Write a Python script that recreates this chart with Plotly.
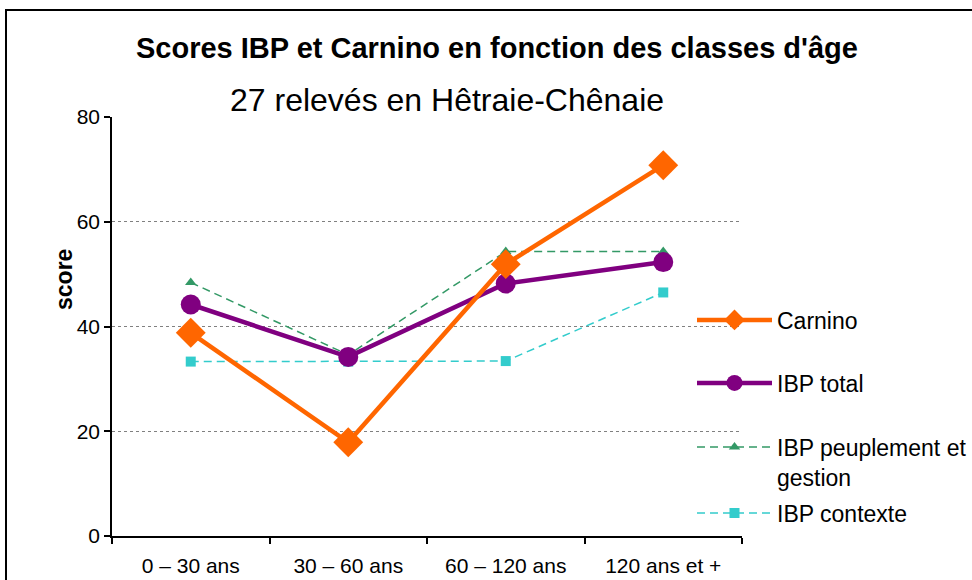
import plotly.graph_objects as go

categories = ["0 – 30 ans", "30 – 60 ans", "60 – 120 ans", "120 ans et +"]
carnino = [38.8, 17.9, 51.9, 70.8]
ibp_total = [44.2, 34.2, 48.2, 52.3]
ibp_peuplement = [48.4, 34.6, 54.3, 54.3]
ibp_contexte = [33.3, 33.3, 33.4, 46.5]
y_ticks = [0, 20, 40, 60, 80]

W, H = 972, 580
L, R, T, B = 112, 742, 117, 536
pw, ph = R - L, B - T

def px(x):
    return (x - L) / pw

def py(y):
    return (B - y) / ph

FONT = "Liberation Sans, Arial, sans-serif"

fig = go.Figure()
fig.add_trace(go.Scatter(x=categories, y=ibp_contexte, name="IBP contexte", mode="lines+markers",
                         line=dict(color="#33CCCC", width=1.5, dash="8px,5px"),
                         marker=dict(symbol="square", size=10, color="#33CCCC"), legend="legend4"))
fig.add_trace(go.Scatter(x=categories, y=ibp_peuplement, name="IBP peuplement et<br>gestion", mode="lines+markers",
                         line=dict(color="#339966", width=1.5, dash="8px,5px"),
                         marker=dict(symbol="triangle-up", size=10, color="#339966"), legend="legend3"))
fig.add_trace(go.Scatter(x=categories, y=ibp_total, name="IBP total", mode="lines+markers",
                         line=dict(color="#800080", width=4.5),
                         marker=dict(symbol="circle", size=20, color="#800080"), legend="legend2"))
fig.add_trace(go.Scatter(x=categories, y=carnino, name="Carnino", mode="lines+markers",
                         line=dict(color="#FF6600", width=4.5),
                         marker=dict(symbol="diamond", size=23, color="#FF6600"), legend="legend"))

def leg(y):
    return dict(x=px(692), xanchor="left", y=py(y), yanchor="middle", bgcolor="rgba(0,0,0,0)",
                font=dict(family=FONT, size=23, color="black"), valign="top", itemwidth=75)

fig.update_layout(
    width=W, height=H,
    margin=dict(l=L, r=W - R, t=T, b=H - B, autoexpand=False),
    paper_bgcolor="white", plot_bgcolor="white",
    font=dict(family=FONT, size=21, color="black"),
    showlegend=True,
    legend=leg(320), legend2=leg(383), legend3=leg(462), legend4=leg(513),
    xaxis=dict(range=[-0.5, 3.5], showline=True, linecolor="black", linewidth=1.5,
               ticks="outside", tickson="boundaries", ticklen=6, tickcolor="black", tickwidth=1.5,
               showgrid=False, tickfont=dict(family=FONT, size=21), ticklabelstandoff=10),
    yaxis=dict(range=[0, 80], tickvals=y_ticks, showline=True, linecolor="black", linewidth=1.5,
               ticks="outside", ticklen=6, tickcolor="black", tickwidth=1.5,
               showgrid=True, gridcolor="#808080", griddash="dot", gridwidth=1,
               zeroline=False, tickfont=dict(family=FONT, size=21)),
    annotations=[
        dict(text="<b>Scores IBP et Carnino en fonction des classes d'âge</b>", x=px(497), y=py(48),
             xanchor="center", yanchor="middle",
             xref="paper", yref="paper", showarrow=False, font=dict(family=FONT, size=29)),
        dict(text="27 relevés en Hêtraie-Chênaie", x=px(447), y=py(100),
             xanchor="center", yanchor="middle",
             xref="paper", yref="paper", showarrow=False, font=dict(family=FONT, size=32)),
        dict(text="<b>score</b>", x=px(64), y=py(279), textangle=-90,
             xanchor="center", yanchor="middle",
             xref="paper", yref="paper", showarrow=False, font=dict(family=FONT, size=23)),
    ],
    shapes=[dict(type="rect", xref="paper", yref="paper", x0=px(6), x1=px(990), y0=py(600), y1=py(10),
                 line=dict(color="black", width=2), layer="below")],
)

fig.write_html("out.html", config={"displayModeBar": False},
               post_script="document.body.style.margin='0px';")
